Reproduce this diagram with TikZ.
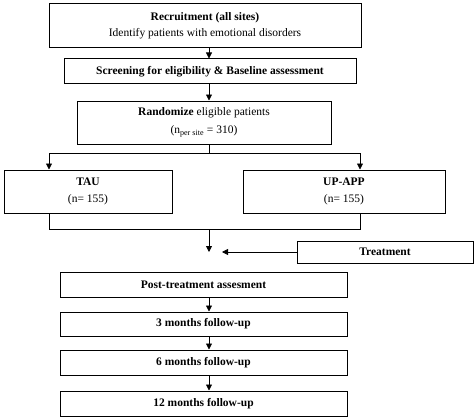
\documentclass[tikz,border=0pt]{standalone}
\usepackage{fontspec}
\setmainfont{Liberation Serif}
\usepackage{tikz}
\usetikzlibrary{arrows.meta, positioning}

\begin{document}
\begin{tikzpicture}[
      % GLOBAL CFG
      x=1pt, y=-1pt,
      font=\fontsize{11.5}{13.5}\selectfont,
      >={Triangle[length=6pt,width=6pt]},
      % Styles
      stage/.style={% For the boxes of the flow
        rectangle,
        draw,
        line width=1pt,
        inner sep=1pt,
        align=center
      },
      arrowflow/.style={% Arrows between stages
        line width=0.8pt,
        ->,
      },
      joinline/.style={% Plain lines for split and merge
        line width=0.8pt,
      }
      ]
      \useasboundingbox (0,0) rectangle (474,420);

      % Main column
      \node [stage, minimum width=312pt, minimum height=44pt] (recruit) at (205,26)
        {\textbf{Recruitment (all sites)}\\[3pt] Identify patients with emotional disorders};
      \node [stage, minimum width=292pt, minimum height=25pt] (screen) at (210,71.5)
        {\textbf{Screening for eligibility \& Baseline assessment}};
      \node [stage, minimum width=254pt, minimum height=43pt] (random) at (204,122.5)
        {\textbf{Randomize} eligible patients\\[4pt] (n\textsubscript{per site} = 310)};

      % The two arms
      \node [stage, minimum width=168pt, minimum height=43pt] (tau) at (88,191.5)
        {\textbf{TAU}\\[3pt] (n= 155)};
      \node [stage, minimum width=202pt, minimum height=43pt] (upapp) at (344,191.5)
        {\textbf{UP-APP}\\[3pt] (n= 155)};

      \node [stage, minimum width=176pt, minimum height=22pt] (treat) at (385,252)
        {\textbf{Treatment}};

      % Follow-up
      \node [stage, minimum width=287pt, minimum height=25pt] (post) at (203.5,284.5)
        {\textbf{Post-treatment assesment}};
      \node [stage, minimum width=287pt, minimum height=24pt] (month3) at (203.5,324)
        {\textbf{3 months follow-up}};
      \node [stage, minimum width=287pt, minimum height=25pt] (month6) at (203.5,362.5)
        {\textbf{6 months follow-up}};
      \node [stage, minimum width=287pt, minimum height=25pt] (month12) at (203.5,403.5)
        {\textbf{12 months follow-up}};

      % Helper points
      \coordinate (spine) at (209,0);
      \coordinate (split) at (209,153);
      \coordinate (splitL) at (49,153);
      \coordinate (splitR) at (360,153);
      \coordinate (mergeL) at (49,229);
      \coordinate (mergeR) at (360,229);
      \coordinate (merge) at (209,229);
      \coordinate (meet) at (209,252);
      \coordinate (meetR) at (222,252);

      % Connectors
      \draw [arrowflow] (recruit.south -| spine) -- (screen.north -| spine);
      \draw [arrowflow] (screen.south -| spine) -- (random.north -| spine);
      \draw [joinline] (random.south -| spine) -- (split);
      \draw [arrowflow] (split) -- (splitL) -- (tau.north -| splitL);
      \draw [arrowflow] (split) -- (splitR) -- (upapp.north -| splitR);
      \draw [joinline] (tau.south -| mergeL) -- (mergeL) -- (mergeR) -- (upapp.south -| mergeR);
      \draw [arrowflow] (merge) -- (meet);
      \draw [arrowflow] (treat.west) -- (meetR);
      \draw [arrowflow] (post.south -| spine) -- (month3.north -| spine);
      \draw [arrowflow] (month3.south -| spine) -- (month6.north -| spine);
      \draw [arrowflow] (month6.south -| spine) -- (month12.north -| spine);

    \end{tikzpicture}
\end{document}
